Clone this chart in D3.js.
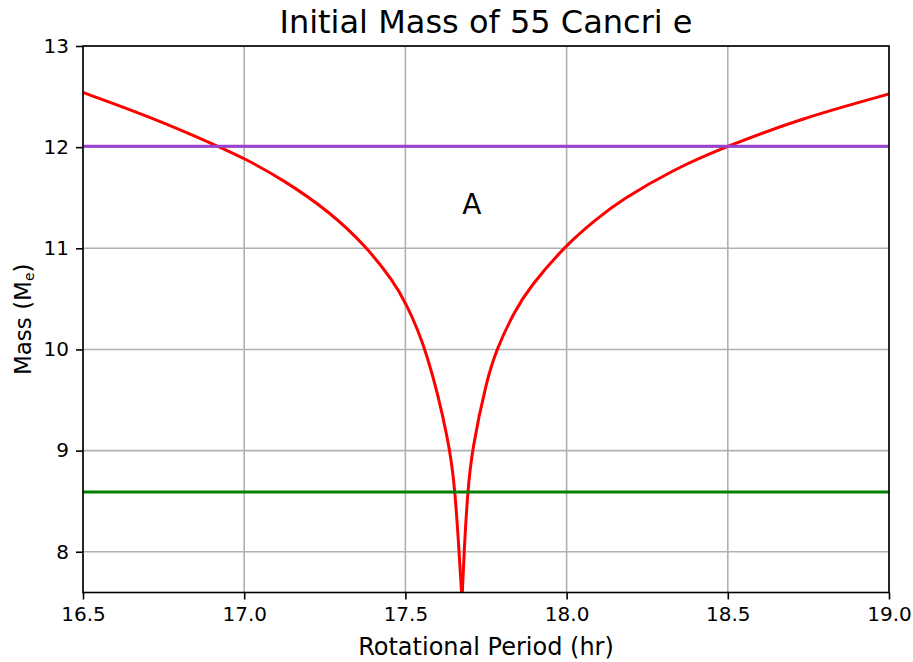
<!DOCTYPE html>
<html><head><meta charset="utf-8">
<script src="https://cdn.jsdelivr.net/npm/d3@7"></script>
<style>body{margin:0;background:#fff;} svg{display:block;} text{font-family:"DejaVu Sans",sans-serif;}</style>
</head><body><svg id="c" width="913" height="662"></svg>
<script>
// Left branch of the mass curve (period hr, mass Me)
const leftPeriod = [16.50, 16.708, 16.919, 17.00, 17.12, 17.266, 17.378, 17.461, 17.50, 17.566, 17.638, 17.654, 17.667, 17.675];
const leftMass   = [12.54, 12.30, 12.01, 11.89, 11.68, 11.36, 11.02, 10.68, 10.47, 10.01, 9.06, 8.60, 7.98, 7.55];
// Right branch
const rightPeriod = [17.676, 17.682, 17.693, 17.706, 17.752, 17.783, 17.835, 17.886, 18.00, 18.093, 18.166, 18.331, 18.498, 18.724, 19.00];
const rightMass   = [7.55, 8.00, 8.59, 9.00, 9.70, 10.00, 10.36, 10.62, 11.04, 11.29, 11.47, 11.78, 12.01, 12.28, 12.525];
const upperLimit = 12.01;
const lowerLimit = 8.59;
const xTicks = [16.5, 17.0, 17.5, 18.0, 18.5, 19.0];
const yTicks = [8, 9, 10, 11, 12, 13];
const xDomain = [16.5, 19.0];
const yDomain = [7.597, 13];
const labelA = {period: 17.706, mass: 11.43, text: "A"};

const svg = d3.select("#c");
const L = 83, R = 889, T = 46, B = 592.5;
const x = d3.scaleLinear().domain(xDomain).range([L, R]);
const y = d3.scaleLinear().domain(yDomain).range([B, T]);

svg.append("defs").append("clipPath").attr("id","clip")
  .append("rect").attr("x",L).attr("y",T).attr("width",R-L).attr("height",B-T);

// grid
const g = svg.append("g");
g.selectAll(".gx").data(xTicks).enter().append("line")
  .attr("x1",d=>x(d)).attr("x2",d=>x(d)).attr("y1",T).attr("y2",B)
  .attr("stroke","#b0b0b0").attr("stroke-width",1.6);
g.selectAll(".gy").data(yTicks).enter().append("line")
  .attr("x1",L).attr("x2",R).attr("y1",d=>y(d)).attr("y2",d=>y(d))
  .attr("stroke","#b0b0b0").attr("stroke-width",1.6);

const plot = svg.append("g").attr("clip-path","url(#clip)");
const line = d3.line().x(d=>x(d[0])).y(d=>y(d[1])).curve(d3.curveBasis);
plot.append("path").datum(leftPeriod.map((p,i)=>[p,leftMass[i]]))
  .attr("d",line).attr("fill","none").attr("stroke","#ff0000").attr("stroke-width",3);
plot.append("path").datum(rightPeriod.map((p,i)=>[p,rightMass[i]]))
  .attr("d",line).attr("fill","none").attr("stroke","#ff0000").attr("stroke-width",3);
plot.append("line").attr("x1",L).attr("x2",R).attr("y1",y(upperLimit)).attr("y2",y(upperLimit))
  .attr("stroke","#9a40d0").attr("stroke-width",3);
plot.append("line").attr("x1",L).attr("x2",R).attr("y1",y(lowerLimit)).attr("y2",y(lowerLimit))
  .attr("stroke","#008000").attr("stroke-width",3);

svg.append("text").attr("x",x(labelA.period)).attr("y",y(labelA.mass)).attr("text-anchor","middle")
  .attr("dominant-baseline","central").attr("font-size",28).text(labelA.text);

// axes
const xa = svg.append("g").attr("transform",`translate(0,${B})`)
  .call(d3.axisBottom(x).tickValues(xTicks).tickFormat(d3.format(".1f")).tickSize(7).tickPadding(7));
const ya = svg.append("g").attr("transform",`translate(${L},0)`)
  .call(d3.axisLeft(y).tickValues(yTicks).tickFormat(d3.format("d")).tickSize(7).tickPadding(7));
[xa,ya].forEach(a=>{
  a.select(".domain").remove();
  a.selectAll(".tick line").attr("stroke","#000").attr("stroke-width",1.6);
  a.selectAll(".tick text").attr("font-size",20).attr("fill","#000").attr("font-family","DejaVu Sans");
});
svg.append("rect").attr("x",L).attr("y",T).attr("width",R-L).attr("height",B-T)
  .attr("fill","none").attr("stroke","#000").attr("stroke-width",1.6);

svg.append("text").attr("x",(L+R)/2).attr("y",655).attr("text-anchor","middle")
  .attr("font-size",24).text("Rotational Period (hr)");
const yl = svg.append("text").attr("transform",`translate(31,${(T+B)/2}) rotate(-90)`)
  .attr("text-anchor","middle").attr("font-size",23);
yl.append("tspan").text("Mass (M");
yl.append("tspan").attr("font-size",14).attr("dy",3).text("e");
yl.append("tspan").attr("dy",-3).text(")");
svg.append("text").attr("x",(L+R)/2).attr("y",33).attr("text-anchor","middle")
  .attr("font-size",32).text("Initial Mass of 55 Cancri e");
</script></body></html>
